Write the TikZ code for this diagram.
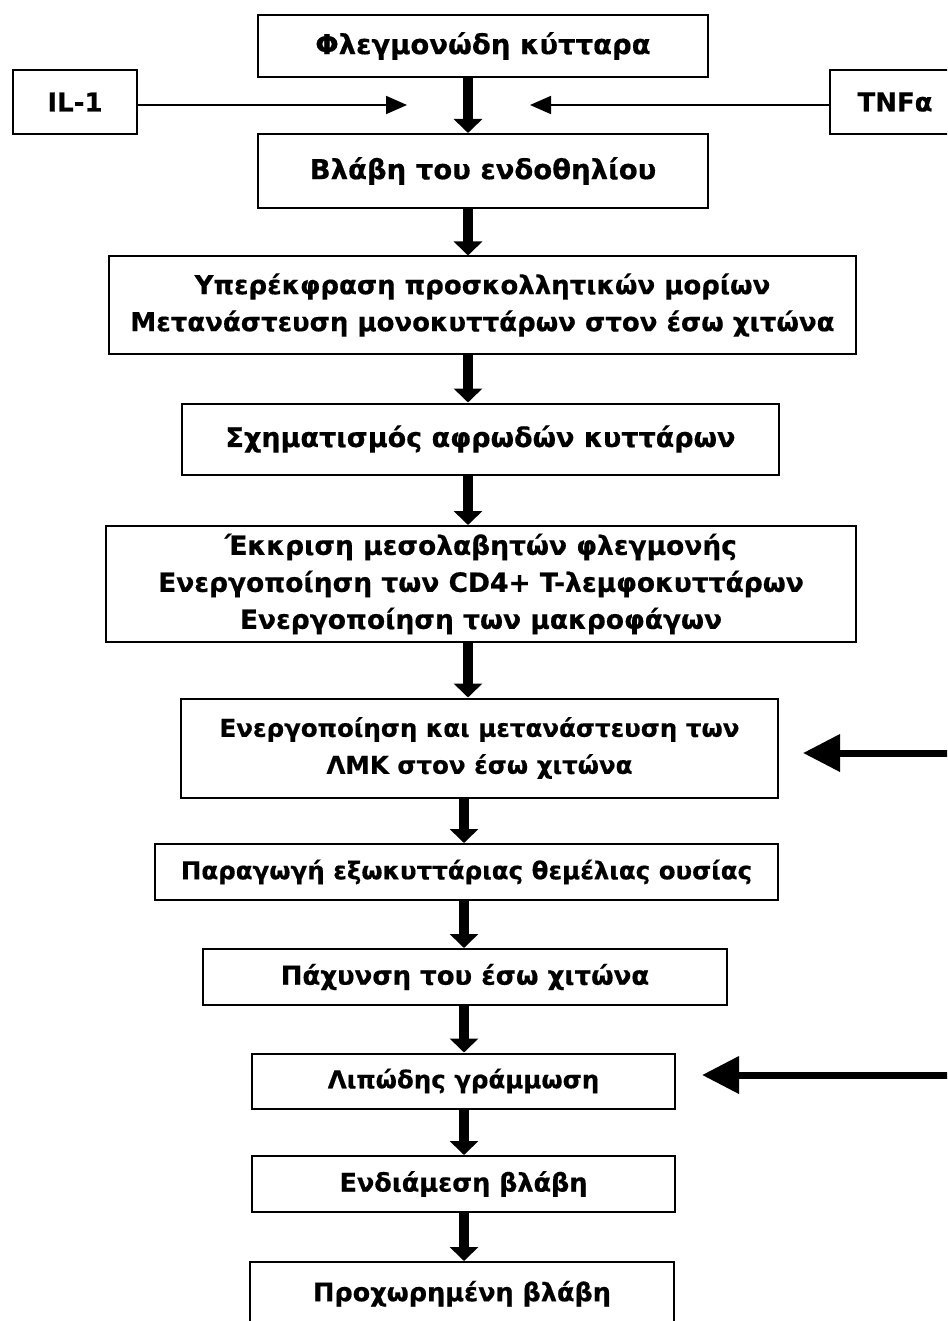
\documentclass[tikz,border=0pt]{standalone}
\usepackage{fontspec}
\setmainfont{DejaVu Sans}[BoldFeatures={FakeBold=0.5}]
\usetikzlibrary{arrows.meta}
\begin{document}
\begin{tikzpicture}[x=1pt,y=-1pt,
  box/.style={draw, line width=2pt, inner sep=0pt, align=center},
  fs/.style={font=\bfseries\fontsize{#1}{37}\selectfont},
  bigarrow/.style={line width=10pt, -{Triangle[width=28pt,length=14pt]}},
  thinarrow/.style={line width=1.8pt, -{Triangle[width=18pt,length=21pt]}},
  sidearrow/.style={line width=7pt, -{Triangle[width=36pt,length=37pt]}}]
\clip (0,0) rectangle (947,1321);
\fill[white] (0,0) rectangle (947,1321);

\node[box, fs=27.5, minimum width=450pt, minimum height=62pt] (b1) at (483,46) {Φλεγμονώδη κύτταρα};
\node[box, fs=26, minimum width=124pt, minimum height=64pt] (il1) at (75,102) {IL-1};
\node[box, fs=26, minimum width=140pt, minimum height=64pt] (tnf) at (900,102) {\hspace*{-10pt}TNFα};
\node[box, fs=27.5, minimum width=450pt, minimum height=74pt] (b2) at (483,171) {Βλάβη του ενδοθηλίου};
\node[box, fs=26, minimum width=747pt, minimum height=97pt] (b3) at (482.5,305) {Υπερέκφραση προσκολλητικών μορίων\\Μετανάστευση μονοκυττάρων στον έσω χιτώνα};
\node[box, fs=27, minimum width=597pt, minimum height=71pt] (b4) at (480.5,439) {Σχηματισμός αφρωδών κυττάρων};
\node[box, fs=26.5, minimum width=750pt, minimum height=116pt] (b5) at (481,584) {Έκκριση μεσολαβητών φλεγμονής\\Ενεργοποίηση των CD4+ T-λεμφοκυττάρων\\Ενεργοποίηση των μακροφάγων};
\node[box, fs=24.5, minimum width=597pt, minimum height=99pt] (b6) at (479.5,748) {Ενεργοποίηση και μετανάστευση των\\ΛΜΚ στον έσω χιτώνα};
\node[box, fs=24.5, minimum width=623pt, minimum height=56pt] (b7) at (466.5,872) {Παραγωγή εξωκυττάριας θεμέλιας ουσίας};
\node[box, fs=26, minimum width=524pt, minimum height=56pt] (b8) at (465,977) {Πάχυνση του έσω χιτώνα};
\node[box, fs=24.5, minimum width=423pt, minimum height=55pt] (b9) at (463.5,1081) {Λιπώδης γράμμωση};
\node[box, fs=25.5, minimum width=423pt, minimum height=56pt] (b10) at (463.5,1184) {Ενδιάμεση βλάβη};
\node[box, fs=25.5, minimum width=424pt, minimum height=80pt, text depth=22pt] (b11) at (462,1302) {Προχωρημένη βλάβη};

\coordinate (ax1) at (468,0);
\coordinate (ax2) at (464,0);
\draw[bigarrow] (b1.south -| ax1) -- (b2.north -| ax1);
\draw[bigarrow] (b2.south -| ax1) -- (b3.north -| ax1);
\draw[bigarrow] (b3.south -| ax1) -- (b4.north -| ax1);
\draw[bigarrow] (b4.south -| ax1) -- (b5.north -| ax1);
\draw[bigarrow] (b5.south -| ax1) -- (b6.north -| ax1);
\draw[bigarrow] (b6.south -| ax2) -- (b7.north -| ax2);
\draw[bigarrow] (b7.south -| ax2) -- (b8.north -| ax2);
\draw[bigarrow] (b8.south -| ax2) -- (b9.north -| ax2);
\draw[bigarrow] (b9.south -| ax2) -- (b10.north -| ax2);
\draw[bigarrow] (b10.south -| ax2) -- (b11.north -| ax2);

\coordinate (ilend) at (407,105);
\coordinate (tnfend) at (530,105);
\draw[thinarrow] (il1.east |- ilend) -- (ilend);
\draw[thinarrow] (tnf.west |- tnfend) -- (tnfend);

\coordinate (r1start) at (950,753);
\coordinate (r1tip) at (803,753);
\coordinate (r2start) at (950,1075);
\coordinate (r2tip) at (702,1075);
\draw[sidearrow] (r1start) -- (r1tip);
\draw[sidearrow] (r2start) -- (r2tip);
\end{tikzpicture}
\end{document}
